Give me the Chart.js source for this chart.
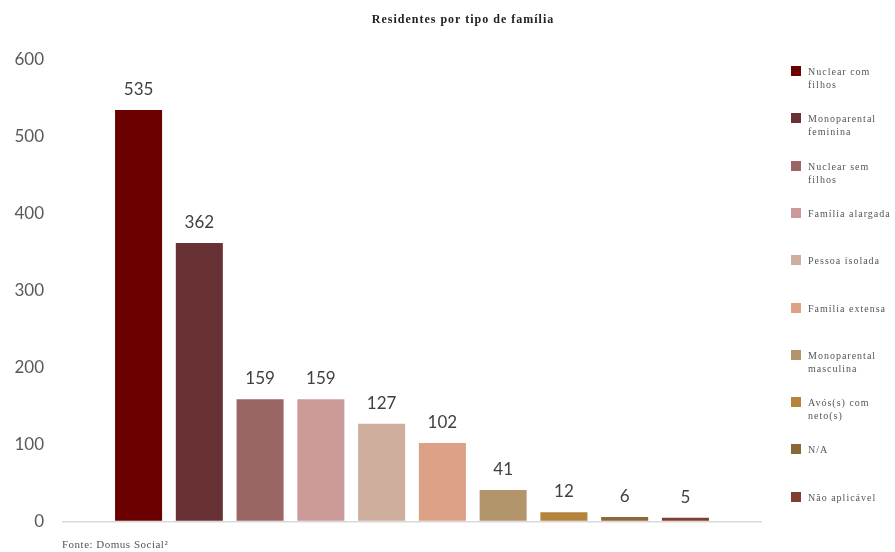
<!DOCTYPE html>
<html>
<head>
<meta charset="utf-8">
<script src="https://cdn.jsdelivr.net/npm/chart.js@4"></script>
<style>
    body { margin: 0; background: #fff; }
    .wrap { position: relative; width: 895px; height: 552px; overflow: hidden; }
    canvas { position: absolute; left: 0; top: 0; }
    .title {
        position: absolute; left: 0; width: 926px; top: 12px; text-align: center;
        font: bold 12px "Liberation Serif", serif; letter-spacing: 1px; color: #222;
    }
    .source {
        position: absolute; left: 62px; top: 538px;
        font: 11px "Liberation Serif", serif; letter-spacing: 0.5px; color: #555;
    }
    .legend { position: absolute; left: 791px; top: 0; }
    .legend-item {
        position: absolute; left: 0; width: 104px;
        font: 10px "Liberation Serif", serif; letter-spacing: 1px; line-height: 13px; color: #555;
    }
    .legend-item span {
        position: absolute; left: 0; top: 1px; width: 10px; height: 10px;
    }
    .legend-item div { margin-left: 17px; }
</style>
</head>
<body>
<div class="wrap">
    <canvas id="familyChart" width="895" height="552"></canvas>
    <div class="title">Residentes por tipo de família</div>
    <div class="legend" id="legend"></div>
    <div class="source">Fonte: Domus Social²</div>
</div>
<script>
// Data
const categories = ['Nuclear com filhos', 'Monoparental feminina', 'Nuclear sem filhos', 'Família alargada',
    'Pessoa isolada', 'Família extensa', 'Monoparental masculina', 'Avós(s) com neto(s)', 'N/A', 'Não aplicável'];
const residents = [535, 362, 159, 159, 127, 102, 41, 12, 6, 5];
const barColors = ['#6a0000', '#683234', '#9a6665', '#cd9a9a', '#cfae9e',
    '#dca086', '#b3956c', '#b5843c', '#8c6737', '#7e3f2e'];
const yTicks = [0, 100, 200, 300, 400, 500, 600];

// Legend
const legendEl = document.getElementById('legend');
categories.forEach(function (name, i) {
    const item = document.createElement('div');
    item.className = 'legend-item';
    item.style.top = (65 + i * 47.3) + 'px';
    item.innerHTML = '<span style="background:' + barColors[i] + '"></span><div>' + name + '</div>';
    legendEl.appendChild(item);
});

// Value labels above bars
const valueLabels = {
    id: 'valueLabels',
    afterDatasetsDraw(chart) {
        const ctx = chart.ctx;
        const meta = chart.getDatasetMeta(0);
        ctx.save();
        ctx.font = '17px Lato';
        ctx.fillStyle = '#404040';
        ctx.textAlign = 'center';
        ctx.textBaseline = 'alphabetic';
        meta.data.forEach(function (bar, i) {
            ctx.fillText(String(residents[i]), bar.x, bar.y - 15);
        });
        ctx.restore();
    }
};

const ctx = document.getElementById('familyChart').getContext('2d');
new Chart(ctx, {
    type: 'bar',
    data: {
        datasets: [{
            label: 'Residentes',
            data: residents.map(function (v, i) { return { x: i + 1, y: v }; }),
            backgroundColor: barColors,
            borderWidth: 0,
            categoryPercentage: 1,
            barPercentage: 0.774
        }]
    },
    options: {
        responsive: false,
        animation: false,
        layout: {
            padding: { left: 0, right: 133, top: 60, bottom: 30.5 }
        },
        plugins: {
            legend: { display: false },
            tooltip: { enabled: false }
        },
        scales: {
            x: {
                type: 'linear',
                display: false,
                offset: false,
                min: -0.26,
                max: 11.26
            },
            y: {
                min: 0,
                max: 600,
                afterBuildTicks(scale) {
                    scale.ticks = yTicks.map(function (v) { return { value: v }; });
                },
                afterFit(scale) {
                    scale.width = 62;
                },
                border: { display: false },
                grid: {
                    drawTicks: false,
                    color: function (c) { return c.tick && c.tick.value === 0 ? '#d9d9d9' : 'rgba(0,0,0,0)'; },
                    lineWidth: 1.5
                },
                ticks: {
                    padding: 18,
                    color: '#595959',
                    font: { family: 'Lato', size: 17 }
                }
            }
        }
    },
    plugins: [valueLabels]
});
</script>
</body>
</html>
